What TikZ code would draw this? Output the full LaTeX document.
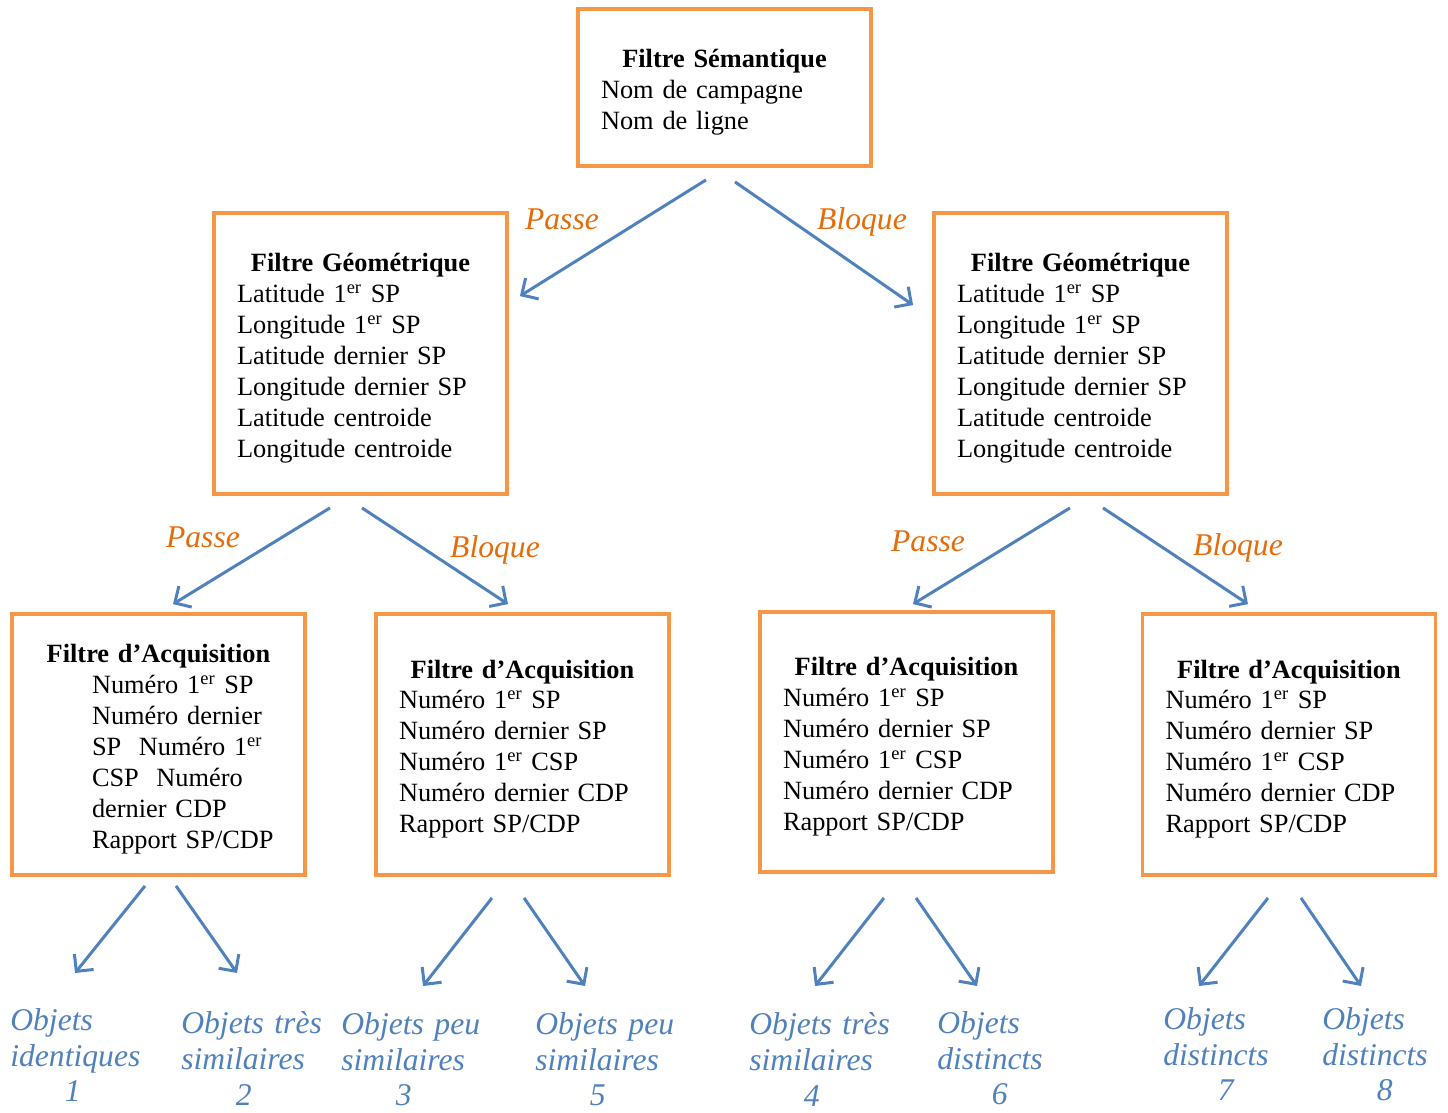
\documentclass[tikz,border=0pt]{standalone}
\usepackage{fontspec}
\setmainfont{Liberation Serif}
\usepackage{xcolor}
\definecolor{filtreOrange}{RGB}{247, 150, 70}
\definecolor{filtreBlue}{RGB}{79, 129, 189}
\definecolor{choixOrange}{RGB}{228, 108, 10}
\usepackage{tikz}
\usetikzlibrary{arrows.meta}

\begin{document}
\begin{tikzpicture}[x=0.02cm, y=-0.02cm,
  filtre/.style={rectangle, draw=filtreOrange, line width=2.2pt,
              minimum width=5.86cm, text width=4.94cm, inner xsep=0.46cm,
              align=left, font=\fontsize{15}{17.6}\selectfont,
              execute at end node={\endgraf\vspace*{-0.18cm}}},
  choix/.style={text=choixOrange, inner sep=0pt, anchor=base,
              font=\fontsize{18}{20.4}\selectfont\itshape},
  objet/.style={text=filtreBlue, text width=3cm, inner sep=0pt,
              anchor=north west, align=left,
              font=\fontsize{18}{20.4}\selectfont\itshape},
  arr/.style={-{Straight Barb[length=7pt, width=14pt]}, draw=filtreBlue,
              line width=1.7pt},
]
  \useasboundingbox (0,0) rectangle (1448,1113);

  % Semantic filter
  \node[filtre, minimum height=3.14cm] (sem) at (724.5,87.5)
    {\makebox[\linewidth]{\bfseries Filtre Sémantique}\\
     Nom de campagne\\ Nom de ligne};

  % Geometric filters
  \node[filtre, minimum height=5.62cm] (geoG) at (360.5,353.5)
    {\makebox[\linewidth]{\bfseries Filtre Géométrique}\\
     Latitude 1\textsuperscript{er} SP\\ Longitude 1\textsuperscript{er} SP\\
     Latitude dernier SP\\ Longitude dernier SP\\
     Latitude centroide\\ Longitude centroide};
  \node[filtre, minimum height=5.62cm] (geoD) at (1080.5,353.5)
    {\makebox[\linewidth]{\bfseries Filtre Géométrique}\\
     Latitude 1\textsuperscript{er} SP\\ Longitude 1\textsuperscript{er} SP\\
     Latitude dernier SP\\ Longitude dernier SP\\
     Latitude centroide\\ Longitude centroide};

  % Acquisition filters
  \node[filtre, minimum height=5.22cm] (acq1) at (158.5,744.5)
    {\makebox[\linewidth]{\bfseries Filtre d’Acquisition}\par
     \leftskip=1.14cm
     Numéro 1\textsuperscript{er} SP\\ Numéro dernier\\
     SP\ \ Numéro 1\textsuperscript{er}\\ CSP\ \ Numéro\\
     dernier CDP\\ Rapport SP/CDP\par};
  \node[filtre, minimum height=5.22cm] (acq2) at (522.5,744.5)
    {\makebox[\linewidth]{\bfseries Filtre d’Acquisition}\\
     Numéro 1\textsuperscript{er} SP\\ Numéro dernier SP\\
     Numéro 1\textsuperscript{er} CSP\\ Numéro dernier CDP\\ Rapport SP/CDP};
  \node[filtre, minimum height=5.2cm] (acq3) at (906.5,742)
    {\makebox[\linewidth]{\bfseries Filtre d’Acquisition}\\
     Numéro 1\textsuperscript{er} SP\\ Numéro dernier SP\\
     Numéro 1\textsuperscript{er} CSP\\ Numéro dernier CDP\\ Rapport SP/CDP};
  \node[filtre, minimum height=5.22cm] (acq4) at (1289,744.5)
    {\makebox[\linewidth]{\bfseries Filtre d’Acquisition}\\
     Numéro 1\textsuperscript{er} SP\\ Numéro dernier SP\\
     Numéro 1\textsuperscript{er} CSP\\ Numéro dernier CDP\\ Rapport SP/CDP};

  % Results
  \node[objet] (obj1) at (10,1008)
    {Objets\\ identiques\\ \makebox[2.5cm]{1}};
  \node[objet] (obj2) at (181,1011)
    {\makebox[2.92cm][s]{Objets très}\\ similaires\\ \makebox[2.5cm]{2}};
  \node[objet] (obj3) at (341,1012)
    {\makebox[2.9cm][s]{Objets peu}\\ similaires\\ \makebox[2.5cm]{3}};
  \node[objet] (obj5) at (535,1012)
    {\makebox[2.9cm][s]{Objets peu}\\ similaires\\ \makebox[2.5cm]{5}};
  \node[objet] (obj4) at (749,1012)
    {\makebox[2.94cm][s]{Objets très}\\ similaires\\ \makebox[2.5cm]{4}};
  \node[objet] (obj6) at (937,1011)
    {Objets\\ distincts\\ \makebox[2.5cm]{6}};
  \node[objet] (obj7) at (1163,1007)
    {Objets\\ distincts\\ \makebox[2.5cm]{7}};
  \node[objet] (obj8) at (1322,1007)
    {Objets\\ distincts\\ \makebox[2.5cm]{8}};

  % Pass / block labels
  \node[choix] (p1) at (562,229) {Passe};
  \node[choix] (b1) at (862,229) {Bloque};
  \node[choix] (p2) at (203,547) {Passe};
  \node[choix] (b2) at (495,557) {Bloque};
  \node[choix] (p3) at (928,551) {Passe};
  \node[choix] (b3) at (1238,555) {Bloque};

  % Arrows
  \draw[arr] ([shift={(-18.5,12)}]sem.south) -- ([shift={(11,85)}]geoG.north east);
  \draw[arr] ([shift={(10.5,14)}]sem.south) -- ([shift={(-19,94)}]geoD.north west);
  \draw[arr] ([shift={(-30.5,12)}]geoG.south) -- ([shift={(14.5,-8)}]acq1.north);
  \draw[arr] ([shift={(1.5,12)}]geoG.south) -- ([shift={(-14.5,-8)}]acq2.north);
  \draw[arr] ([shift={(-10.5,12)}]geoD.south) -- ([shift={(6.5,-6)}]acq3.north);
  \draw[arr] ([shift={(22.5,12)}]geoD.south) -- ([shift={(-41,-8)}]acq4.north);
  \draw[arr] ([shift={(-13.5,9)}]acq1.south) -- ([shift={(65,-35)}]obj1.north west);
  \draw[arr] ([shift={(17.5,9)}]acq1.south) -- ([shift={(56,-38)}]obj2.north west);
  \draw[arr] ([shift={(-30.5,21)}]acq2.south) -- ([shift={(82,-26)}]obj3.north west);
  \draw[arr] ([shift={(1.5,21)}]acq2.south) -- ([shift={(50,-26)}]obj5.north west);
  \draw[arr] ([shift={(-22.5,24)}]acq3.south) -- ([shift={(66,-26)}]obj4.north west);
  \draw[arr] ([shift={(9.5,24)}]acq3.south) -- ([shift={(40,-25)}]obj6.north west);
  \draw[arr] ([shift={(-21,21)}]acq4.south) -- ([shift={(36,-21)}]obj7.north west);
  \draw[arr] ([shift={(12,21)}]acq4.south) -- ([shift={(39,-21)}]obj8.north west);
\end{tikzpicture}
\end{document}
